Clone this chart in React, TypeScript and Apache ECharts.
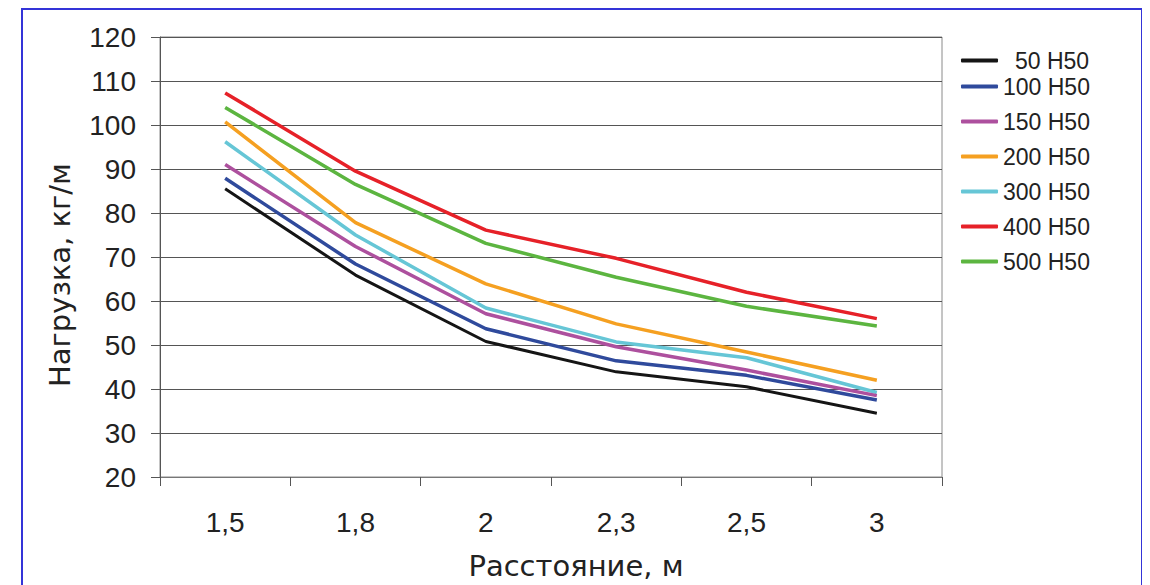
import React, { useEffect, useRef } from "react";
import * as echarts from "echarts";

const categories = ["1,5", "1,8", "2", "2,3", "2,5", "3"];
const seriesNames = ["50 Н50", "100 Н50", "150 Н50", "200 Н50", "300 Н50", "400 Н50", "500 Н50"];
const s50 = [85.5, 65.9, 50.8, 43.9, 40.5, 34.5];
const s100 = [87.9, 68.4, 53.7, 46.4, 43.1, 37.5];
const s150 = [91.0, 72.4, 57.1, 49.6, 44.3, 38.5];
const s200 = [100.7, 77.8, 63.9, 54.8, 48.4, 42.0];
const s300 = [96.2, 75.0, 58.4, 50.7, 47.1, 39.2];
const s400 = [107.3, 89.5, 76.1, 69.7, 62.0, 56.0];
const s500 = [104.0, 86.5, 73.1, 65.4, 58.8, 54.3];
const colors = ["#151515", "#2f4a9c", "#ad509e", "#f5a021", "#66c6d6", "#e62128", "#5cb540"];
const yTitle = "Нагрузка, кг/м";
const xTitle = "Расстояние, м";

const FONT = "Liberation Sans";
const TITLE_FONT = "DejaVu Sans";

export default function App() {
  const ref = useRef<HTMLDivElement>(null);
  useEffect(() => {
    if (!ref.current) return;
    const chart = echarts.init(ref.current, undefined, { renderer: "svg" });
    const data = [s50, s100, s150, s200, s300, s400, s500];
    const legendText = { fontFamily: FONT, fontSize: 23, color: "#222" };
    chart.setOption({
      animation: false,
      backgroundColor: "#fff",
      graphic: [
        {
          type: "rect",
          shape: { x: 14, y: 1, width: 1120, height: 620 },
          style: { fill: "none", stroke: "#3434d8", lineWidth: 2 },
          silent: true,
        },
      ],
      grid: {
        left: 152,
        right: 200,
        top: 29,
        bottom: 107,
        show: true,
        borderColor: "#8a8a8a",
        borderWidth: 1,
      },
      legend: [
        {
          data: [seriesNames[0]],
          orient: "vertical",
          left: 948,
          top: 36,
          itemWidth: 37,
          itemHeight: 4,
          icon: "roundRect",
          itemGap: 12,
          textStyle: { ...legendText, padding: [0, 0, 0, 12] },
        },
        {
          data: seriesNames.slice(1),
          orient: "vertical",
          left: 948,
          top: 62,
          itemWidth: 37,
          itemHeight: 4,
          icon: "roundRect",
          itemGap: 12,
          textStyle: legendText,
        },
      ],
      xAxis: {
        type: "category",
        data: categories,
        boundaryGap: true,
        name: xTitle,
        nameLocation: "middle",
        nameGap: 74,
        nameTextStyle: { fontFamily: TITLE_FONT, fontSize: 29, color: "#222", padding: [0, 0, 0, 50] },
        axisLine: { lineStyle: { color: "#777", width: 1 } },
        axisTick: { show: true, inside: false, length: 9, lineStyle: { color: "#555" } },
        axisLabel: { fontFamily: FONT, fontSize: 28, color: "#222", margin: 31 },
        splitLine: { show: false },
      },
      yAxis: {
        type: "value",
        min: 20,
        max: 120,
        interval: 10,
        name: yTitle,
        nameLocation: "middle",
        nameGap: 86,
        nameTextStyle: { fontFamily: TITLE_FONT, fontSize: 29, color: "#222", padding: [0, 36, 0, 0] },
        axisLine: { show: true, lineStyle: { color: "#555", width: 1 } },
        axisTick: { show: true, inside: false, length: 9, lineStyle: { color: "#555" } },
        axisLabel: { fontFamily: FONT, fontSize: 28, color: "#222", margin: 24 },
        splitLine: { show: true, lineStyle: { color: "#555", width: 1 } },
      },
      series: seriesNames.map((name, i) => ({
        name,
        type: "line",
        data: data[i],
        symbol: "none",
        color: colors[i],
        lineStyle: { width: i === 0 ? 3 : 3.5, color: colors[i] },
        z: 10 - i,
      })),
    });
    return () => chart.dispose();
  }, []);
  return <div ref={ref} style={{ width: 1134, height: 577 }} />;
}
